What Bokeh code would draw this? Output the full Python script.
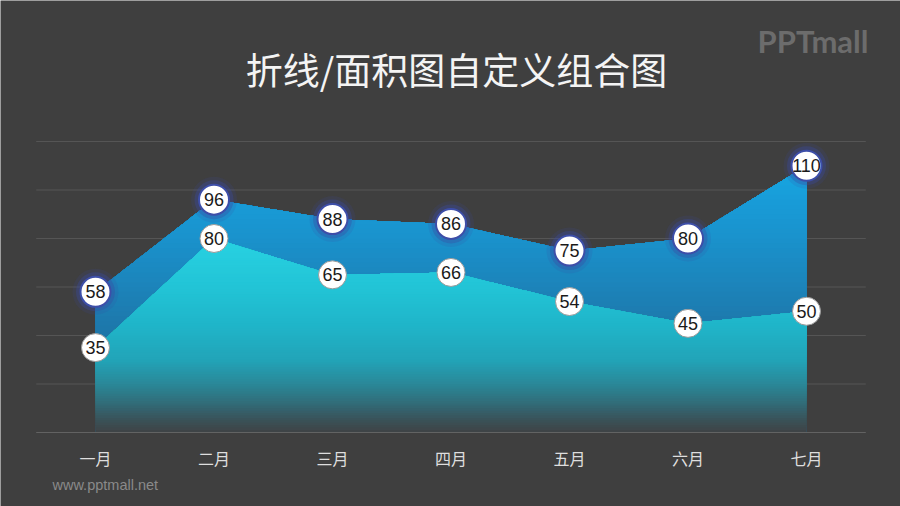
import numpy as np
from bokeh.plotting import figure
from bokeh.models import Range1d, Label
from bokeh.embed import file_html
from bokeh.resources import INLINE
from bokeh.core.properties import value

# ---- data ----
months = ["一月", "二月", "三月", "四月", "五月", "六月", "七月"]
line_values = [58, 96, 88, 86, 75, 80, 110]
area_values = [35, 80, 65, 66, 54, 45, 50]
y_ticks = [0, 20, 40, 60, 80, 100, 120]
title_text = "折线/面积图自定义组合图"
logo_text = "PPTmall"
site_text = "www.pptmall.net"

BG = "#3f3f3f"
GRID = "#575757"

upper_stops = [(0, "#1e6a98"), (35, "#1e72a4"), (58, "#1c82b8"), (80, "#1a92cc"),
               (96, "#189cd8"), (110, "#16a8e2")]
lower_stops = [(0, "#3f4345"), (5, "#3a5158"), (12, "#316c78"), (20, "#2a8898"),
               (30, "#22a4b8"), (45, "#1fb6ca"), (60, "#22c4d6"), (80, "#28d2e2")]


def hex2rgb(h):
    h = h.lstrip("#")
    return np.array([int(h[i:i + 2], 16) for i in (0, 2, 4)], dtype=float)


def grad(stops, v):
    ys = [s[0] for s in stops]
    cols = np.array([hex2rgb(s[1]) for s in stops])
    rgb = [np.interp(v, ys, cols[:, i]) for i in range(3)]
    return "#%02x%02x%02x" % tuple(int(round(c)) for c in rgb)


n = len(months)
xpos = np.arange(n) + 0.5

W, H = 900, 506
p = figure(width=W, height=H, output_backend="svg", toolbar_location=None,
           x_range=Range1d(-0.3017, 7.2932), y_range=Range1d(-30.52, 178.14),
           x_axis_location=None, y_axis_location=None, title=None,
           min_border=0, background_fill_color=BG, border_fill_color=BG,
           outline_line_color=None)
p.outline_line_alpha = 0
p.grid.visible = False

# ---- grid lines spanning the category bands ----
p.segment(x0=[0] * (len(y_ticks) - 1), x1=[n] * (len(y_ticks) - 1), y0=y_ticks[1:], y1=y_ticks[1:],
          line_color=GRID, line_width=1)

# ---- gradient areas (bands clipped to the series outline) ----
xs_dense = np.linspace(xpos[0], xpos[-1], 721)


def band_patches(vals, stops, step):
    top = np.interp(xs_dense, xpos, vals)
    levels = np.arange(0, max(vals), step)
    pxs, pys, cols = [], [], []
    for b in levels:
        y1 = np.minimum(b, top)
        pxs.append(np.concatenate([xs_dense, xs_dense[::-1]]))
        pys.append(np.concatenate([top, y1[::-1]]))
        cols.append(grad(stops, b + step / 2))
    p.patches(xs=pxs, ys=pys, fill_color=cols, line_color=None)


band_patches(line_values, upper_stops, 2)
band_patches(area_values, lower_stops, 1)

# ---- x axis line and month labels ----
p.segment(x0=[0], x1=[n], y0=[y_ticks[0]], y1=[y_ticks[0]], line_color="#646464", line_width=1)
p.text(xpos, [y_ticks[0]] * n, text=months, y_offset=26, text_align="center",
       text_baseline="middle", text_font=value("Noto Sans CJK SC"), text_font_size="16px",
       text_color="#dedede")

# ---- markers ----
p.scatter(xpos, line_values, size=46, fill_color="#3a4aa0", fill_alpha=0.15, line_color=None)
p.scatter(xpos, line_values, size=39, fill_color="#3a4aa0", fill_alpha=0.35, line_color=None)
p.scatter(xpos, line_values, size=30, fill_color="white", line_color="#3d4ea8", line_width=2)
p.scatter(xpos, area_values, size=28, fill_color="white", line_color="#9a9a9a", line_width=1)

p.text(xpos, line_values, text=[str(v) for v in line_values], text_align="center",
       text_baseline="middle", text_font=value("Liberation Sans"), text_font_size="18px",
       text_color="#1a1a1a")
p.text(xpos, area_values, text=[str(v) for v in area_values], text_align="center",
       text_baseline="middle", text_font=value("Liberation Sans"), text_font_size="18px",
       text_color="#1a1a1a")

# ---- texts ----
p.add_layout(Label(x=456, y=H - 68, x_units="screen", y_units="screen", text=title_text,
                   text_align="center", text_baseline="middle", text_font="Noto Sans CJK SC",
                   text_font_size="37px", text_color="#f4f4f4"))
p.add_layout(Label(x=868, y=H - 40, x_units="screen", y_units="screen", text=logo_text,
                   text_align="right", text_baseline="middle", text_font="Lato",
                   text_font_style="bold", text_font_size="31px", text_color="#6c6c6c"))
p.add_layout(Label(x=52, y=H - 484, x_units="screen", y_units="screen", text=site_text,
                   text_align="left", text_baseline="middle", text_font="Liberation Sans",
                   text_font_size="14.5px", text_color="#8a8a8a"))

open("out.html", "w").write(file_html(p, INLINE))
